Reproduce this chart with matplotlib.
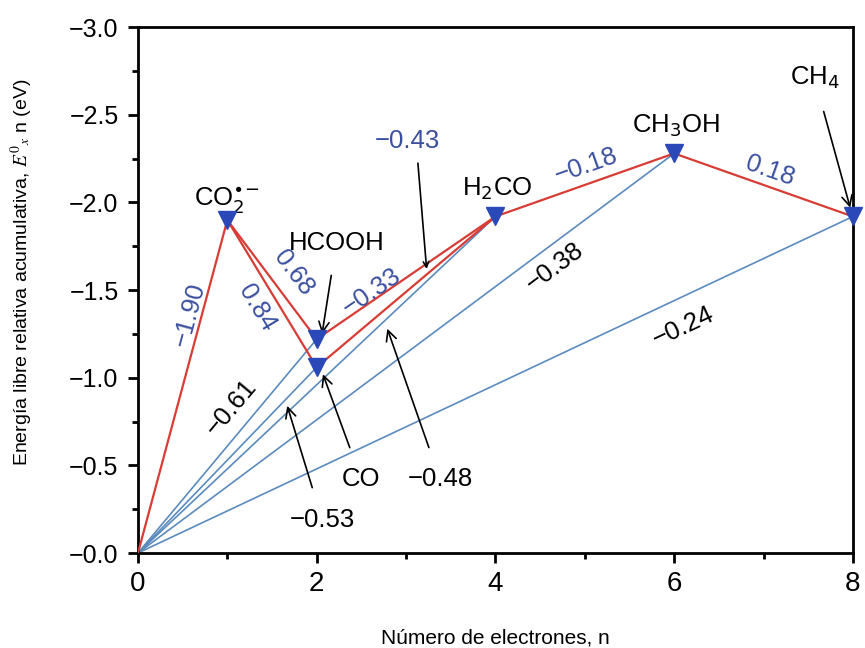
import numpy as np
import matplotlib
matplotlib.use("Agg")
from matplotlib import pyplot as plt
from matplotlib.ticker import FixedLocator, FuncFormatter

plt.rcParams['font.family'] = ['Liberation Sans', 'DejaVu Sans']

# species on the reduction path: electrons n and cumulative energy E0*n
species = ['CO2', 'HCOOH', 'CO', 'H2CO', 'CH3OH', 'CH4']
n_el = [1, 2, 2, 4, 6, 8]
energy = [-1.90, -1.22, -1.06, -1.92, -2.28, -1.92]

# red steps (from, to) and their blue step labels
steps = [(None, 'CO2'), ('CO2', 'HCOOH'), ('CO2', 'CO'), ('HCOOH', 'H2CO'),
         ('CO', 'H2CO'), ('H2CO', 'CH3OH'), ('CH3OH', 'CH4')]
step_labels = ['−1.90', '0.68', '0.84', '−0.33', '−0.43', '−0.18', '0.18']

# blue lines from origin and their average potentials
origin_to = ['HCOOH', 'CO', 'H2CO', 'CH3OH', 'CH4']
avg_labels = ['−0.61', '−0.53', '−0.48', '−0.38', '−0.24']

RED = '#d83c35'
BLUE = '#5b8bbd'
MARK = '#2b48b8'
TXTBLUE = '#3a4f9e'
FS = 18.5

pos = {s: (x, y) for s, x, y in zip(species, n_el, energy)}
pos[None] = (0, 0)

fig = plt.figure(figsize=(8.65, 6.48), dpi=100)
ax = fig.add_axes([0.1595, 0.1466, 0.8265, 0.8114])
ax.set_xlim(0, 8)
ax.set_ylim(0, -3)

for s in origin_to:
    x, y = pos[s]
    ax.plot([0, x], [0, y], color=BLUE, lw=1.2, zorder=2)
for a, b in steps:
    ax.plot([pos[a][0], pos[b][0]], [pos[a][1], pos[b][1]], color=RED, lw=1.6, zorder=3)
ax.plot(n_el, energy, linestyle='none', marker='v', ms=13, color=MARK, zorder=4, clip_on=False)


def angle(p0, p1):
    a = ax.transData.transform(p0)
    b = ax.transData.transform(p1)
    return np.degrees(np.arctan2(b[1] - a[1], b[0] - a[0]))


# rotated labels along lines: (text, line from, line to, x, y, color)
rot_labels = [
    (step_labels[0], None, 'CO2', 0.58, -1.36, TXTBLUE),
    (step_labels[1], 'CO2', 'HCOOH', 1.74, -1.60, TXTBLUE),
    (step_labels[2], 'CO2', 'CO', 1.33, -1.40, TXTBLUE),
    (step_labels[3], 'HCOOH', 'H2CO', 2.62, -1.49, TXTBLUE),
    (step_labels[5], 'H2CO', 'CH3OH', 5.02, -2.21, TXTBLUE),
    (step_labels[6], 'CH3OH', 'CH4', 7.07, -2.18, TXTBLUE),
    (avg_labels[0], None, 'HCOOH', 1.04, -0.83, 'black'),
    (avg_labels[3], None, 'CH3OH', 4.66, -1.63, 'black'),
    (avg_labels[4], None, 'CH4', 6.10, -1.29, 'black'),
]
for t, a, b, x, y, c in rot_labels:
    ax.text(x, y, t, rotation=angle(pos[a], pos[b]), color=c, fontsize=FS,
            ha='center', va='center', rotation_mode='anchor')

ax.text(3.02, -2.35, step_labels[4], color=TXTBLUE, fontsize=FS, ha='center', va='center')

# species names
names = [(r'CO$_2^{\bullet\!-}$', 1.0, -2.01), ('H$_2$CO', 4.02, -2.08),
         ('CH$_3$OH', 6.02, -2.44)]
for t, x, y in names:
    ax.text(x, y, t, fontsize=FS, ha='center', va='center')

arr = dict(arrowstyle='->', color='black', lw=1.2, shrinkA=2, shrinkB=0)
ax.annotate('HCOOH', xy=(2.06, -1.25), xytext=(2.22, -1.77), fontsize=FS,
            ha='center', va='center', arrowprops=dict(arr, shrinkA=13))
ax.annotate('CH$_4$', xy=(7.97, -1.97), xytext=(7.57, -2.71), fontsize=FS,
            ha='center', va='center', arrowprops=dict(arr, shrinkA=13))
ax.annotate('CO', xy=(2.07, -1.02), xytext=(2.5, -0.42), fontsize=FS,
            ha='center', va='center', arrowprops=dict(arr, shrinkA=13))
ax.annotate(avg_labels[2], xy=(2.79, -1.28), xytext=(3.38, -0.42), fontsize=FS,
            ha='center', va='center', arrowprops=dict(arr, shrinkA=13))
ax.annotate(avg_labels[1], xy=(1.67, -0.84), xytext=(2.06, -0.19), fontsize=FS,
            ha='center', va='center', arrowprops=dict(arr, shrinkA=13))
ax.annotate('', xy=(3.23, -1.62), xytext=(3.13, -2.24), arrowprops=arr)

ax.xaxis.set_major_locator(FixedLocator([0, 2, 4, 6, 8]))
ax.xaxis.set_minor_locator(FixedLocator([1, 3, 5, 7]))
ax.yaxis.set_major_locator(FixedLocator(np.arange(0, -3.01, -0.5)))
ax.yaxis.set_minor_locator(FixedLocator(np.arange(-0.25, -3, -0.5)))
ax.yaxis.set_major_formatter(FuncFormatter(lambda v, p: '−%.1f' % abs(v)))
ax.tick_params(which='major', direction='out', length=7, width=2)
ax.tick_params(axis='y', which='major', pad=7, labelsize=18)
ax.tick_params(axis='x', which='major', pad=6, labelsize=20)
ax.tick_params(which='minor', direction='out', length=4.5, width=2)
for sp in ax.spines.values():
    sp.set_linewidth(2)

ax.set_xlabel('Número de electrones, n', fontsize=15)
ax.set_ylabel(r'Energía libre relativa acumulativa, $E^0{}_x$ n (eV)', fontsize=14,
              math_fontfamily='stix')
ax.xaxis.set_label_coords(0.5, -0.143)
ax.yaxis.set_label_coords(-0.144, 0.534)

fig.savefig('out.png', dpi=100)
